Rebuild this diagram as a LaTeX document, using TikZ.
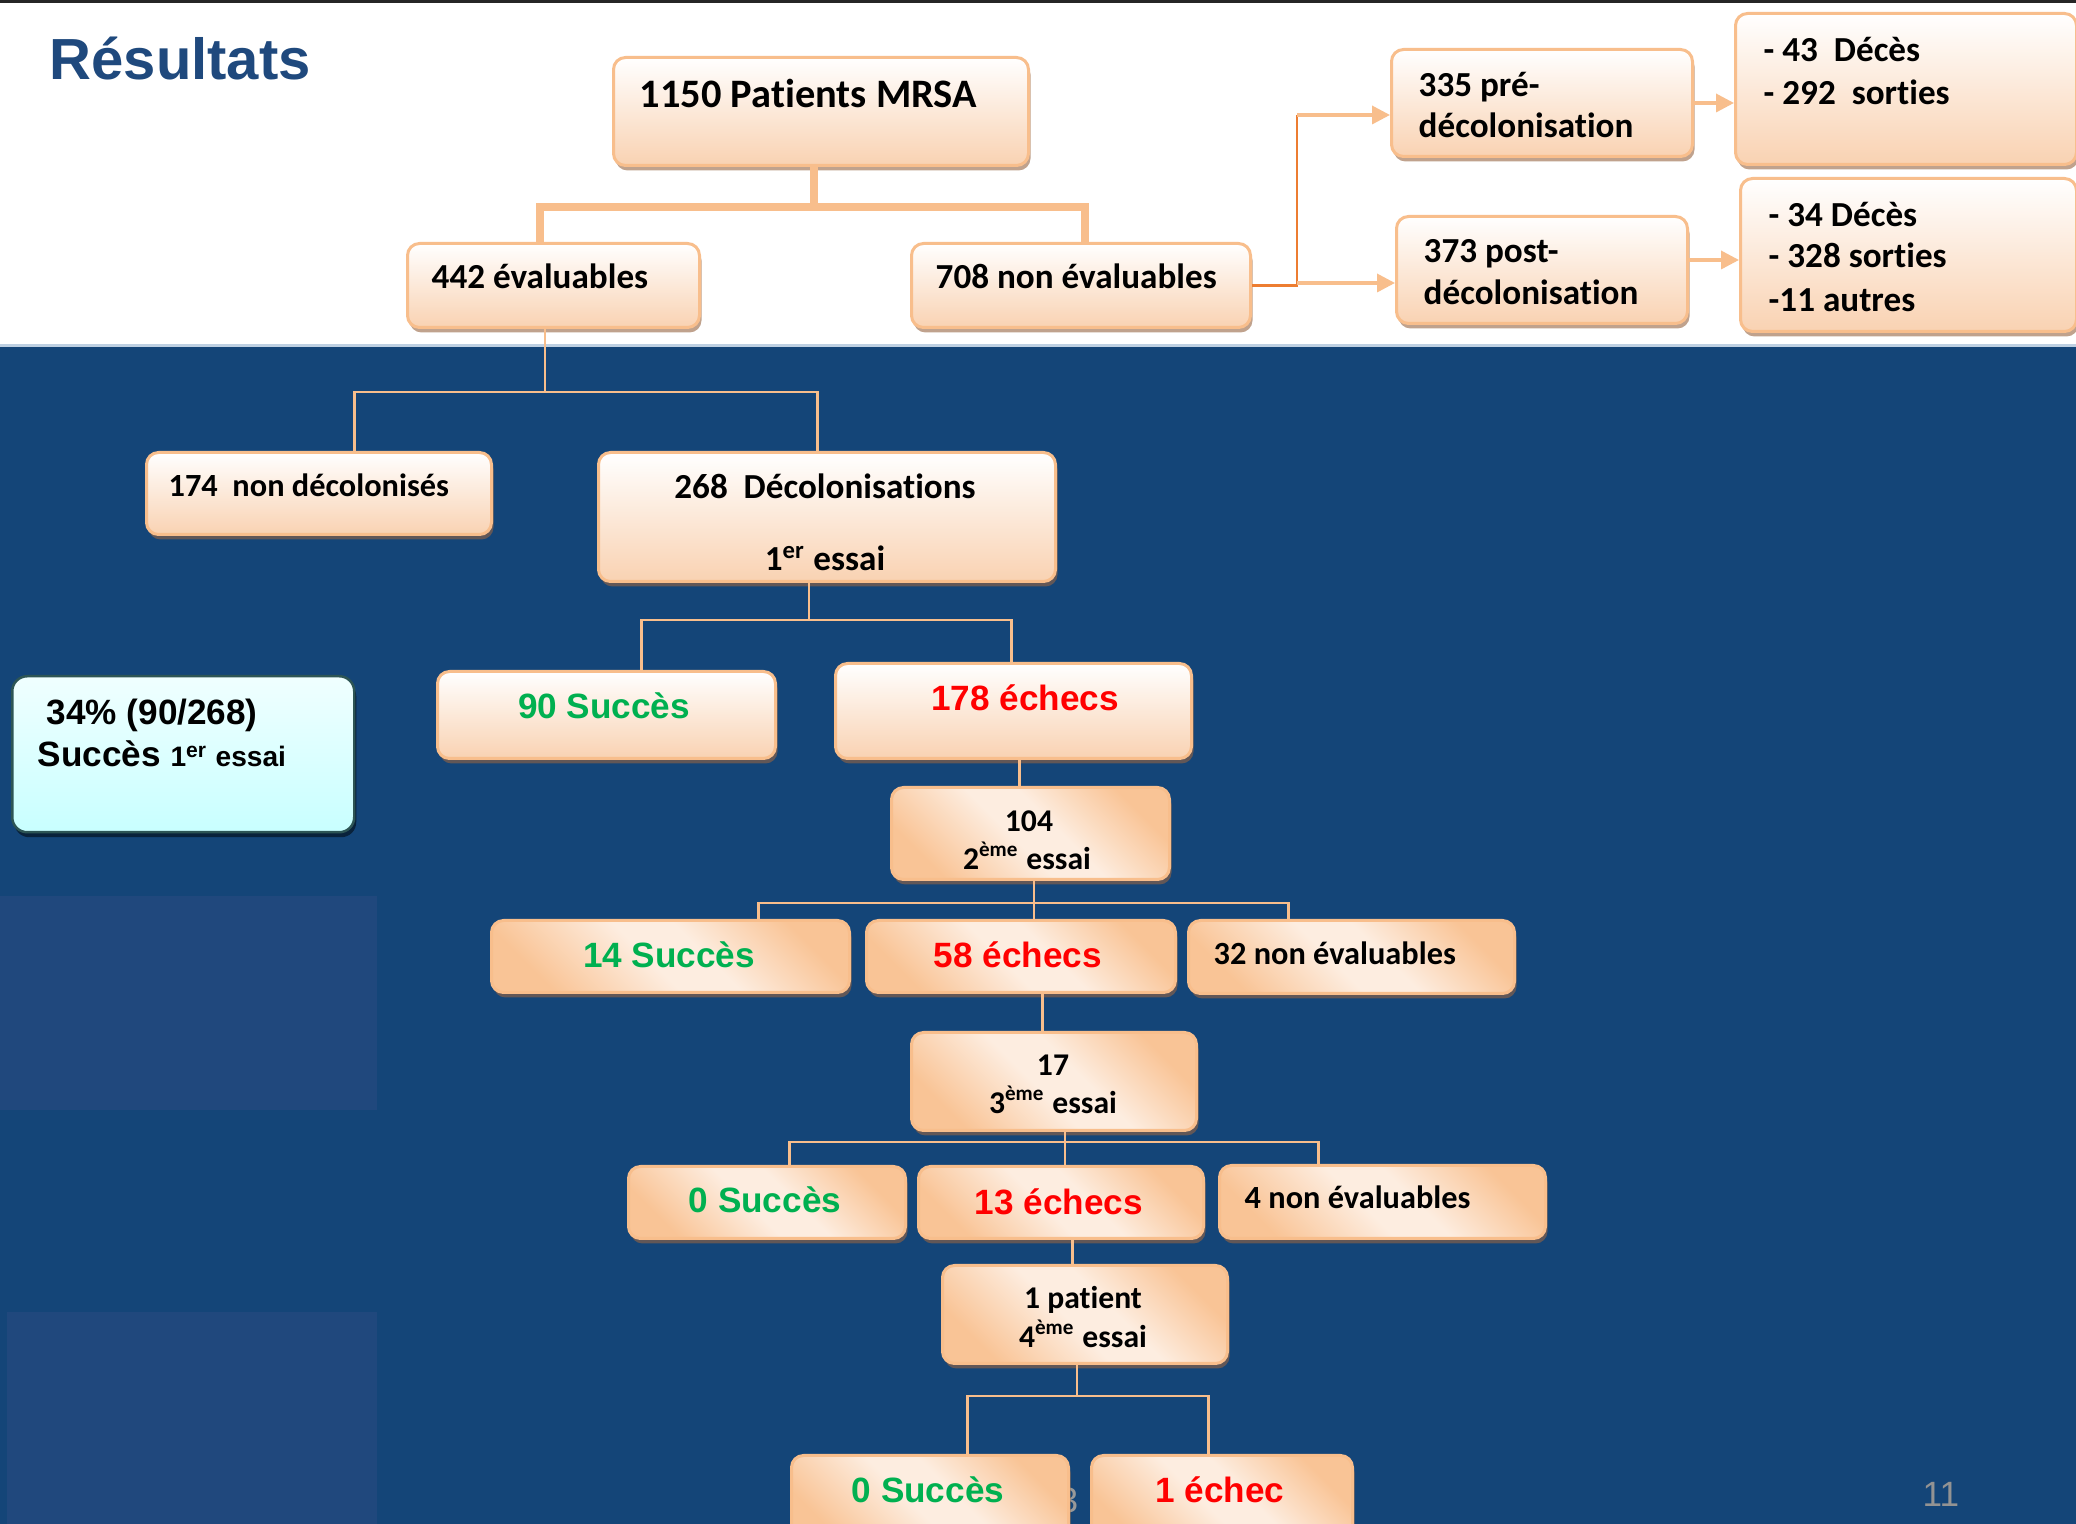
\documentclass[tikz,border=0pt]{standalone}
\usepackage{fontspec}
\setmainfont{Carlito}[Ligatures=NoCommon]
\newfontfamily\arial{Liberation Sans}
\usepackage{tikz}
\usetikzlibrary{arrows.meta,shadows,calc}

\definecolor{fond}{RGB}{20,69,120}
\definecolor{fondclair}{RGB}{32,72,125}
\definecolor{peche}{RGB}{248,190,140}
\definecolor{pechebas}{RGB}{249,210,178}
\definecolor{pechefort}{RGB}{249,196,150}
\definecolor{pechepale}{RGB}{253,237,224}
\definecolor{orangefonce}{RGB}{237,125,49}
\definecolor{ombre}{RGB}{150,100,65}
\definecolor{titre}{RGB}{31,73,125}
\definecolor{vertok}{RGB}{0,176,80}
\definecolor{cyanhaut}{RGB}{240,255,255}
\definecolor{cyanbas}{RGB}{200,255,255}
\definecolor{bordcyan}{RGB}{45,85,85}
\definecolor{bordblanc}{RGB}{190,208,226}

\newcommand{\taille}[1]{\fontsize{#1}{#1}\selectfont}

\pgfdeclarehorizontalshading{bande}{100bp}{color(0bp)=(pechefort); color(25bp)=(pechefort); color(46bp)=(pechepale); color(56bp)=(pechepale); color(75bp)=(pechefort); color(100bp)=(pechefort)}

\tikzstyle{boite}=[draw=peche, line width=0.3mm, rounded corners=1.2mm, top color=white, bottom color=pechebas, drop shadow={shadow xshift=0.2mm, shadow yshift=-0.5mm, fill=ombre, opacity=0.6}, anchor=north west, inner sep=0]
\tikzstyle{boitediag}=[boite, shading=bande, shading angle=45]
\tikzstyle{boitecyan}=[draw=bordcyan, line width=0.25mm, rounded corners=1.5mm, top color=cyanhaut, bottom color=cyanbas, drop shadow={shadow xshift=0.2mm, shadow yshift=-0.5mm, fill=black, opacity=0.5}, anchor=north west, inner sep=0]
\tikzstyle{tronc}=[draw=peche, line width=0.8mm]
\tikzstyle{lien}=[draw=peche, line width=0.25mm]
\tikzstyle{orangefin}=[draw=orangefonce, line width=0.25mm]
\tikzstyle{fleche}=[draw=peche, line width=0.35mm, -{Triangle[length=1.8mm,width=1.8mm]}]
\tikzset{
  noir/.style={inner sep=0, font=\bfseries\taille{#1}},
  noir/.default=10,
  vert/.style={inner sep=0, anchor=base, text=vertok, font=\arial\bfseries\taille{10}},
  rouge/.style={inner sep=0, anchor=base, text=red, font=\arial\bfseries\taille{10}}
}

\begin{document}
\begin{tikzpicture}[x=0.1mm, y=-0.1mm]

\useasboundingbox (0,0) rectangle (2076,1524);

% fond
\fill[white] (0,0) rectangle (2076,347);
\fill[fond] (0,347) rectangle (2076,1524);
\fill[fondclair] (0,896) rectangle (377,1110);
\fill[fondclair] (7,1312) rectangle (377,1524);
\fill[black!85] (0,0) rectangle (2076,3);
\draw[bordblanc, line width=0.3mm] (0,346) -- (2076,346);

\node[anchor=base west, inner sep=0, text=titre, font=\arial\bfseries\taille{16.5}] (titre) at (49,80) {Résultats};
\node[anchor=base west, inner sep=0, text=gray!85, font=\arial\taille{10}] (page) at (1922,1507) {11};
\node[anchor=base west, inner sep=0, text=gray!80, font=\arial\taille{10}] (fantome) at (1058,1512) {3};

% boites du haut
\node[boite, minimum width=41.5mm, minimum height=10.8mm] (pat) at (612,56) {};
\node[boite, minimum width=29.2mm, minimum height=8.4mm] (eval) at (406,242) {};
\node[boite, minimum width=33.9mm, minimum height=8.4mm] (noneval) at (910,242) {};
\node[boite, minimum width=30.1mm, minimum height=10.7mm] (pre) at (1390,48) {};
\node[boite, minimum width=29.1mm, minimum height=10.7mm] (post) at (1395,215) {};
\node[boite, minimum width=34.1mm, minimum height=15.1mm] (dec1) at (1734,12) {};
\node[boite, minimum width=33.6mm, minimum height=15.3mm] (dec2) at (1739,177) {};

\node[noir=11.5, anchor=base west] (pat-t) at (639,108) {1150 Patients MRSA};
\node[noir, anchor=base west] (eval-t) at (431,289) {442 évaluables};
\node[noir, anchor=base west] (noneval-t) at (935,289) {708 non évaluables};
\node[noir, anchor=base west] (pre-t1) at (1418,97) {335 pré-};
\node[noir, anchor=base west] (pre-t2) at (1418,138) {décolonisation};
\node[noir, anchor=base west] (post-t1) at (1423,263) {373 post-};
\node[noir, anchor=base west] (post-t2) at (1423,305) {décolonisation};
\node[noir, anchor=base west] (dec1-t1) at (1763,62) {- 43~ Décès};
\node[noir, anchor=base west] (dec1-t2) at (1763,105) {- 292~ sorties};
\node[noir, anchor=base west] (dec2-t1) at (1768,227) {- 34 Décès};
\node[noir, anchor=base west] (dec2-t2) at (1768,268) {- 328 sorties};
\node[noir, anchor=base west] (dec2-t3) at (1768,312) {-11 autres};

% premier essai
\node[boite, minimum width=34.5mm, minimum height=8.2mm] (nondec) at (145,451) {};
\node[boite, minimum width=45.7mm, minimum height=12.9mm] (decol) at (597,451) {};
\node[boitecyan, minimum width=34.2mm, minimum height=15.6mm] (taux) at (11,675) {};
\node[boite, minimum width=33.8mm, minimum height=8.7mm] (succ1) at (436,670) {};
\node[boite, minimum width=35.6mm, minimum height=9.5mm] (ech1) at (834,662) {};

\node[noir=9.2, anchor=base west] (nondec-t) at (168,497) {174~ non décolonisés};
\node[noir, anchor=base] (decol-t1) at (825,499) {268~ Décolonisations};
\node[noir, anchor=base] (decol-t2) at (825,571) {1\textsuperscript{er} essai};
\node[anchor=base west, inner sep=0, font=\arial\bfseries\taille{10}] (taux-t1) at (46,725) {34\% (90/268)};
\node[anchor=base west, inner sep=0, font=\arial\bfseries\taille{10}] (taux-t2) at (37,767) {Succès {\taille{8}1\textsuperscript{er} essai}};
\node[vert] (succ1-t) at (604,719) {90 Succès};
\node[rouge] (ech1-t) at (1025,711) {178 échecs};

% essais suivants
\node[boitediag, minimum width=27.8mm, minimum height=9.2mm] (e104) at (890,786) {};
\node[boitediag, minimum width=35.8mm, minimum height=7.2mm] (succ2) at (490,919) {};
\node[boitediag, minimum width=30.9mm, minimum height=7.2mm] (ech2) at (865,919) {};
\node[boitediag, minimum width=32.6mm, minimum height=7.3mm] (nev2) at (1187,919) {};
\node[boitediag, minimum width=28.5mm, minimum height=9.8mm] (e17) at (910,1031) {};
\node[boitediag, minimum width=27.7mm, minimum height=7.2mm] (succ3) at (627,1165) {};
\node[boitediag, minimum width=28.5mm, minimum height=7.2mm] (ech3) at (917,1165) {};
\node[boitediag, minimum width=32.6mm, minimum height=7.3mm] (nev3) at (1218,1164) {};
\node[boitediag, minimum width=28.5mm, minimum height=9.8mm] (e1p) at (941,1264) {};
\node[boitediag, minimum width=27.7mm, minimum height=9mm] (succ4) at (790,1454) {};
\node[boitediag, minimum width=26.1mm, minimum height=9mm] (ech4) at (1090,1454) {};

\node[noir=9, anchor=base] (e104-t1) at (1029,832) {104};
\node[noir=9, anchor=base] (e104-t2) at (1027,870) {2\textsuperscript{ème} essai};
\node[vert] (succ2-t) at (669,968) {14 Succès};
\node[rouge] (ech2-t) at (1018,968) {58 échecs};
\node[noir=9.2, anchor=base west] (nev2-t) at (1213,965) {32 non évaluables};
\node[noir=9, anchor=base] (e17-t1) at (1053,1076) {17};
\node[noir=9, anchor=base] (e17-t2) at (1053,1114) {3\textsuperscript{ème} essai};
\node[vert] (succ3-t) at (765,1213) {0 Succès};
\node[rouge] (ech3-t) at (1059,1215) {13 échecs};
\node[noir=9.2, anchor=base west] (nev3-t) at (1244,1209) {4 non évaluables};
\node[noir=9, anchor=base] (e1p-t1) at (1083,1309) {1 patient};
\node[noir=9, anchor=base] (e1p-t2) at (1083,1348) {4\textsuperscript{ème} essai};
\node[vert] (succ4-t) at (928,1503) {0 Succès};
\node[rouge] (ech4-t) at (1220,1503) {1 échec};

% liens du haut
\coordinate (j0) at (814,207);
\draw[tronc] (pat.south -| j0) -- (j0);
\draw[tronc] ([xshift=-1.4mm]eval.north) |- (j0) -| ([xshift=0.35mm]noneval.north);

\coordinate (c1) at (1297,115);
\coordinate (c2) at (1297,283);
\draw[orangefin] (noneval.east) -| (c1);
\draw[fleche] (c1) -- (c1 -| pre.west);
\draw[fleche] (c2) -- (c2 -| post.west);
\draw[fleche] (pre.east) -- (pre.east -| dec1.west);
\draw[fleche] ([yshift=1mm]post.east) -- ([yshift=1mm]post.east -| dec2.west);

% arbre des essais
\coordinate (j1) at (545,392);
\draw[lien] (eval.south -| j1) -- (j1);
\draw[lien] ([xshift=3.55mm]nondec.north) |- (j1) -| ([xshift=-0.95mm]decol.north);

\coordinate (j2) at (809,620);
\draw[lien] (decol.south -| j2) -- (j2);
\draw[lien] ([xshift=3.5mm]succ1.north) |- (j2) -| ([xshift=-0.2mm]ech1.north);
\draw[lien] ([xshift=0.6mm]ech1.south) -- ([xshift=0.6mm]ech1.south |- e104.north);

\coordinate (j3) at (1034,903);
\draw[lien] (e104.south -| j3) -- (j3 |- ech2.north);
\draw[lien] ([xshift=8.8mm]succ2.north) |- (j3) -| ([xshift=-6.3mm]nev2.north);
\draw[lien] ([xshift=2.15mm]ech2.south) -- ([xshift=2.15mm]ech2.south |- e17.north);

\coordinate (j4) at (1065,1142);
\draw[lien] (e17.south -| j4) -- (j4 |- ech3.north);
\draw[lien] ([xshift=2.25mm]succ3.north) |- (j4) -| ([xshift=-6.4mm]nev3.north);
\draw[lien] ([xshift=1.15mm]ech3.south) -- ([xshift=1.15mm]ech3.south |- e1p.north);

\coordinate (j5) at (1077,1396);
\draw[lien] (e1p.south -| j5) -- (j5);
\draw[lien] ([xshift=3.75mm]succ4.north) |- (j5) -| ([xshift=-1.35mm]ech4.north);

\end{tikzpicture}
\end{document}
